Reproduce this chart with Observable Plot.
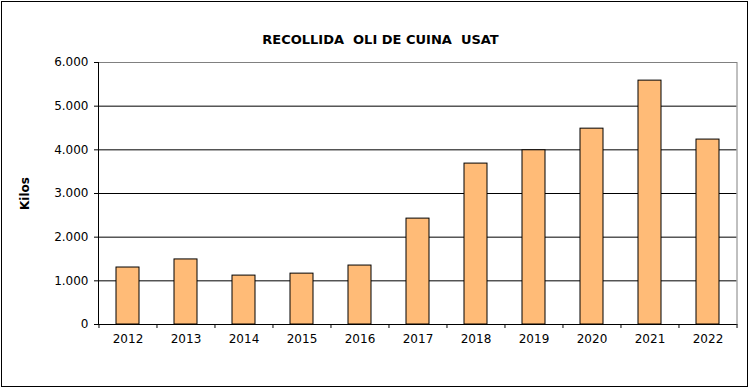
<!DOCTYPE html>
<html>
<head>
<meta charset="utf-8">
<script src="https://cdn.jsdelivr.net/npm/d3@7"></script>
<script src="https://cdn.jsdelivr.net/npm/@observablehq/plot@0.6"></script>
<style>
  html, body { margin: 0; padding: 0; background: white; }
  #wrap { position: relative; width: 750px; height: 389px; }
  #border { position: absolute; left: 1px; top: 1px; width: 745px; height: 384px; border: 1px solid black; pointer-events: none; }
  svg text { white-space: pre; }
</style>
</head>
<body>
<div id="wrap"><div id="border"></div></div>
<script>
const years = ["2012","2013","2014","2015","2016","2017","2018","2019","2020","2021","2022"];
const kilos = [1305, 1490, 1120, 1165, 1350, 2425, 3685, 3990, 4485, 5585, 4235];
const yTicks = [0, 1000, 2000, 3000, 4000, 5000, 6000];
const title = "RECOLLIDA  OLI DE CUINA  USAT";
const yLabel = "Kilos";

const data = years.map((y, i) => ({year: y, kilos: kilos[i]}));
const fmt = d3.formatLocale({decimal: ",", thousands: ".", grouping: [3], currency: ["", "€"]}).format(",");

const W = 750, H = 389, ML = 98, MR = 13.5, MT = 62, MB = 65;
const step = (W - ML - MR) / years.length;
const titleShift = W / 2 + 5 - (ML + (W - ML - MR) / 2);

const chart = Plot.plot({
  width: W, height: H,
  marginLeft: ML, marginRight: MR, marginTop: MT, marginBottom: MB,
  style: {fontFamily: "'DejaVu Sans', Verdana, sans-serif", fontSize: "12px", color: "black", background: "white"},
  x: {domain: years, paddingInner: 0.6, paddingOuter: 0.3},
  y: {domain: [0, 6000]},
  marks: [
    Plot.gridY(yTicks.slice(1, -1), {stroke: "black", strokeOpacity: 1}),
    Plot.frame({stroke: "#808080"}),
    Plot.barY(data, {x: "year", y: "kilos", fill: "#FFBB77", stroke: "black", strokeWidth: 1}),
    Plot.ruleY([0], {stroke: "black"}),
    Plot.frame({anchor: "left", stroke: "black"}),
    Plot.axisY(yTicks, {tickFormat: fmt, tickSize: 4, tickPadding: 6, label: null, stroke: "black"}),
    Plot.axisX({tickSize: 0, tickPadding: 10, label: null}),
    Plot.ruleX(years, {x: d => d, y1: 0, y2: 0, insetBottom: -4, dx: -step / 2, stroke: "black"}),
    Plot.ruleX([years[years.length - 1]], {x: d => d, y1: 0, y2: 0, insetBottom: -4, dx: step / 2, stroke: "black"}),
    Plot.text([title], {frameAnchor: "top", dy: -28, dx: titleShift, fontWeight: "bold", fontSize: 13, text: d => d}),
    Plot.text([yLabel], {frameAnchor: "left", dx: -73, rotate: -90, textAnchor: "middle", fontWeight: "bold", text: d => d})
  ]
});
document.getElementById("wrap").prepend(chart);
</script>
</body>
</html>
